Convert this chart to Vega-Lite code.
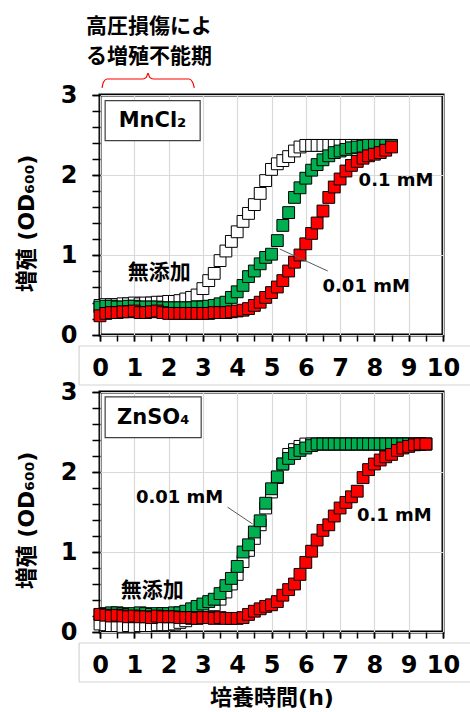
{
  "$schema": "https://vega.github.io/schema/vega-lite/v6.json",
  "background": "white",
  "padding": {"left": 13, "top": 14, "right": 0, "bottom": 0},
  "config": {
    "view": {"stroke": "#000000", "strokeWidth": 3},
    "axis": {
      "domain": false,
      "tickColor": "#000000",
      "tickWidth": 1.5,
      "labelColor": "#000000",
      "labelFont": "DejaVu Sans",
      "labelFontSize": 24,
      "labelFontWeight": "bold",
      "titleColor": "#000000",
      "titleFont": "DejaVu Sans, Noto Sans CJK JP",
      "titleFontSize": 22,
      "titleFontWeight": "bold",
      "gridColor": "#d9d9d9",
      "gridWidth": 1.2,
      "labelOverlap": false,
      "labelFlush": false,
      "labelBound": false
    },
    "axisX": {"tickSize": 6, "labelPadding": 27, "labelBaseline": "middle"},
    "axisY": {"tickSize": 8, "labelPadding": 15, "titleAngle": 270, "titleX": -74, "titleY": 128, "titleAlign": "center", "titleBaseline": "middle"}
  },
  "datasets": {
    "growth": [
      {"p":"Mn","s":"none","h":0,"v":0.37},{"p":"Mn","s":"none","h":0.17,"v":0.38},{"p":"Mn","s":"none","h":0.33,"v":0.38},{"p":"Mn","s":"none","h":0.5,"v":0.38},{"p":"Mn","s":"none","h":0.67,"v":0.39},{"p":"Mn","s":"none","h":0.83,"v":0.39},{"p":"Mn","s":"none","h":1,"v":0.4},{"p":"Mn","s":"none","h":1.17,"v":0.39},{"p":"Mn","s":"none","h":1.33,"v":0.4},{"p":"Mn","s":"none","h":1.5,"v":0.4},{"p":"Mn","s":"none","h":1.67,"v":0.41},{"p":"Mn","s":"none","h":1.83,"v":0.41},{"p":"Mn","s":"none","h":2,"v":0.42},{"p":"Mn","s":"none","h":2.17,"v":0.42},{"p":"Mn","s":"none","h":2.33,"v":0.43},{"p":"Mn","s":"none","h":2.5,"v":0.45},{"p":"Mn","s":"none","h":2.67,"v":0.47},{"p":"Mn","s":"none","h":2.83,"v":0.5},{"p":"Mn","s":"none","h":3,"v":0.58},{"p":"Mn","s":"none","h":3.17,"v":0.68},{"p":"Mn","s":"none","h":3.33,"v":0.77},{"p":"Mn","s":"none","h":3.5,"v":0.93},{"p":"Mn","s":"none","h":3.67,"v":1.05},{"p":"Mn","s":"none","h":3.83,"v":1.17},{"p":"Mn","s":"none","h":4,"v":1.29},{"p":"Mn","s":"none","h":4.17,"v":1.42},{"p":"Mn","s":"none","h":4.33,"v":1.52},{"p":"Mn","s":"none","h":4.5,"v":1.63},{"p":"Mn","s":"none","h":4.67,"v":1.77},{"p":"Mn","s":"none","h":4.83,"v":1.93},{"p":"Mn","s":"none","h":5,"v":2.07},{"p":"Mn","s":"none","h":5.17,"v":2.14},{"p":"Mn","s":"none","h":5.33,"v":2.18},{"p":"Mn","s":"none","h":5.5,"v":2.23},{"p":"Mn","s":"none","h":5.67,"v":2.3},{"p":"Mn","s":"none","h":5.83,"v":2.35},{"p":"Mn","s":"none","h":6,"v":2.37},{"p":"Mn","s":"none","h":6.17,"v":2.37},{"p":"Mn","s":"none","h":6.33,"v":2.37},{"p":"Mn","s":"none","h":6.5,"v":2.37},{"p":"Mn","s":"none","h":6.67,"v":2.37},{"p":"Mn","s":"none","h":6.83,"v":2.37},{"p":"Mn","s":"none","h":7,"v":2.37},{"p":"Mn","s":"none","h":7.17,"v":2.37},{"p":"Mn","s":"none","h":7.33,"v":2.37},{"p":"Mn","s":"none","h":7.5,"v":2.37},{"p":"Mn","s":"none","h":7.67,"v":2.37},{"p":"Mn","s":"none","h":7.83,"v":2.37},{"p":"Mn","s":"none","h":8,"v":2.37},{"p":"Mn","s":"none","h":8.17,"v":2.37},{"p":"Mn","s":"none","h":8.33,"v":2.37},{"p":"Mn","s":"none","h":8.5,"v":2.37},
      {"p":"Mn","s":"0.01","h":0,"v":0.35},{"p":"Mn","s":"0.01","h":0.17,"v":0.36},{"p":"Mn","s":"0.01","h":0.33,"v":0.36},{"p":"Mn","s":"0.01","h":0.5,"v":0.35},{"p":"Mn","s":"0.01","h":0.67,"v":0.35},{"p":"Mn","s":"0.01","h":0.83,"v":0.36},{"p":"Mn","s":"0.01","h":1,"v":0.36},{"p":"Mn","s":"0.01","h":1.17,"v":0.35},{"p":"Mn","s":"0.01","h":1.33,"v":0.35},{"p":"Mn","s":"0.01","h":1.5,"v":0.35},{"p":"Mn","s":"0.01","h":1.67,"v":0.35},{"p":"Mn","s":"0.01","h":1.83,"v":0.34},{"p":"Mn","s":"0.01","h":2,"v":0.34},{"p":"Mn","s":"0.01","h":2.17,"v":0.34},{"p":"Mn","s":"0.01","h":2.33,"v":0.34},{"p":"Mn","s":"0.01","h":2.5,"v":0.34},{"p":"Mn","s":"0.01","h":2.67,"v":0.34},{"p":"Mn","s":"0.01","h":2.83,"v":0.35},{"p":"Mn","s":"0.01","h":3,"v":0.35},{"p":"Mn","s":"0.01","h":3.17,"v":0.36},{"p":"Mn","s":"0.01","h":3.33,"v":0.37},{"p":"Mn","s":"0.01","h":3.5,"v":0.39},{"p":"Mn","s":"0.01","h":3.67,"v":0.41},{"p":"Mn","s":"0.01","h":3.83,"v":0.47},{"p":"Mn","s":"0.01","h":4,"v":0.54},{"p":"Mn","s":"0.01","h":4.17,"v":0.62},{"p":"Mn","s":"0.01","h":4.33,"v":0.73},{"p":"Mn","s":"0.01","h":4.5,"v":0.8},{"p":"Mn","s":"0.01","h":4.67,"v":0.89},{"p":"Mn","s":"0.01","h":4.83,"v":0.97},{"p":"Mn","s":"0.01","h":5,"v":1.01},{"p":"Mn","s":"0.01","h":5.17,"v":1.18},{"p":"Mn","s":"0.01","h":5.33,"v":1.37},{"p":"Mn","s":"0.01","h":5.5,"v":1.53},{"p":"Mn","s":"0.01","h":5.67,"v":1.72},{"p":"Mn","s":"0.01","h":5.83,"v":1.84},{"p":"Mn","s":"0.01","h":6,"v":1.96},{"p":"Mn","s":"0.01","h":6.17,"v":2.06},{"p":"Mn","s":"0.01","h":6.33,"v":2.13},{"p":"Mn","s":"0.01","h":6.5,"v":2.19},{"p":"Mn","s":"0.01","h":6.67,"v":2.24},{"p":"Mn","s":"0.01","h":6.83,"v":2.28},{"p":"Mn","s":"0.01","h":7,"v":2.3},{"p":"Mn","s":"0.01","h":7.17,"v":2.32},{"p":"Mn","s":"0.01","h":7.33,"v":2.34},{"p":"Mn","s":"0.01","h":7.5,"v":2.35},{"p":"Mn","s":"0.01","h":7.67,"v":2.36},{"p":"Mn","s":"0.01","h":7.83,"v":2.37},{"p":"Mn","s":"0.01","h":8,"v":2.37},{"p":"Mn","s":"0.01","h":8.17,"v":2.37},{"p":"Mn","s":"0.01","h":8.33,"v":2.37},{"p":"Mn","s":"0.01","h":8.5,"v":2.37},
      {"p":"Mn","s":"0.1","h":0,"v":0.24},{"p":"Mn","s":"0.1","h":0.17,"v":0.27},{"p":"Mn","s":"0.1","h":0.33,"v":0.28},{"p":"Mn","s":"0.1","h":0.5,"v":0.28},{"p":"Mn","s":"0.1","h":0.67,"v":0.29},{"p":"Mn","s":"0.1","h":0.83,"v":0.29},{"p":"Mn","s":"0.1","h":1,"v":0.3},{"p":"Mn","s":"0.1","h":1.17,"v":0.28},{"p":"Mn","s":"0.1","h":1.33,"v":0.28},{"p":"Mn","s":"0.1","h":1.5,"v":0.29},{"p":"Mn","s":"0.1","h":1.67,"v":0.3},{"p":"Mn","s":"0.1","h":1.83,"v":0.28},{"p":"Mn","s":"0.1","h":2,"v":0.27},{"p":"Mn","s":"0.1","h":2.17,"v":0.27},{"p":"Mn","s":"0.1","h":2.33,"v":0.27},{"p":"Mn","s":"0.1","h":2.5,"v":0.27},{"p":"Mn","s":"0.1","h":2.67,"v":0.27},{"p":"Mn","s":"0.1","h":2.83,"v":0.27},{"p":"Mn","s":"0.1","h":3,"v":0.27},{"p":"Mn","s":"0.1","h":3.17,"v":0.27},{"p":"Mn","s":"0.1","h":3.33,"v":0.28},{"p":"Mn","s":"0.1","h":3.5,"v":0.28},{"p":"Mn","s":"0.1","h":3.67,"v":0.28},{"p":"Mn","s":"0.1","h":3.83,"v":0.29},{"p":"Mn","s":"0.1","h":4,"v":0.3},{"p":"Mn","s":"0.1","h":4.17,"v":0.31},{"p":"Mn","s":"0.1","h":4.33,"v":0.33},{"p":"Mn","s":"0.1","h":4.5,"v":0.37},{"p":"Mn","s":"0.1","h":4.67,"v":0.41},{"p":"Mn","s":"0.1","h":4.83,"v":0.47},{"p":"Mn","s":"0.1","h":5,"v":0.53},{"p":"Mn","s":"0.1","h":5.17,"v":0.6},{"p":"Mn","s":"0.1","h":5.33,"v":0.68},{"p":"Mn","s":"0.1","h":5.5,"v":0.8},{"p":"Mn","s":"0.1","h":5.67,"v":0.91},{"p":"Mn","s":"0.1","h":5.83,"v":1.0},{"p":"Mn","s":"0.1","h":6,"v":1.14},{"p":"Mn","s":"0.1","h":6.17,"v":1.27},{"p":"Mn","s":"0.1","h":6.33,"v":1.4},{"p":"Mn","s":"0.1","h":6.5,"v":1.55},{"p":"Mn","s":"0.1","h":6.67,"v":1.72},{"p":"Mn","s":"0.1","h":6.83,"v":1.85},{"p":"Mn","s":"0.1","h":7,"v":1.95},{"p":"Mn","s":"0.1","h":7.17,"v":2.05},{"p":"Mn","s":"0.1","h":7.33,"v":2.12},{"p":"Mn","s":"0.1","h":7.5,"v":2.17},{"p":"Mn","s":"0.1","h":7.67,"v":2.21},{"p":"Mn","s":"0.1","h":7.83,"v":2.24},{"p":"Mn","s":"0.1","h":8,"v":2.26},{"p":"Mn","s":"0.1","h":8.17,"v":2.28},{"p":"Mn","s":"0.1","h":8.33,"v":2.31},{"p":"Mn","s":"0.1","h":8.5,"v":2.35},
      {"p":"Zn","s":"none","h":0,"v":0.1},{"p":"Zn","s":"none","h":0.17,"v":0.09},{"p":"Zn","s":"none","h":0.33,"v":0.08},{"p":"Zn","s":"none","h":0.5,"v":0.08},{"p":"Zn","s":"none","h":0.67,"v":0.07},{"p":"Zn","s":"none","h":0.83,"v":0.08},{"p":"Zn","s":"none","h":1,"v":0.07},{"p":"Zn","s":"none","h":1.17,"v":0.08},{"p":"Zn","s":"none","h":1.33,"v":0.08},{"p":"Zn","s":"none","h":1.5,"v":0.08},{"p":"Zn","s":"none","h":1.67,"v":0.09},{"p":"Zn","s":"none","h":1.83,"v":0.09},{"p":"Zn","s":"none","h":2,"v":0.09},{"p":"Zn","s":"none","h":2.17,"v":0.1},{"p":"Zn","s":"none","h":2.33,"v":0.12},{"p":"Zn","s":"none","h":2.5,"v":0.14},{"p":"Zn","s":"none","h":2.67,"v":0.17},{"p":"Zn","s":"none","h":2.83,"v":0.2},{"p":"Zn","s":"none","h":3,"v":0.22},{"p":"Zn","s":"none","h":3.17,"v":0.28},{"p":"Zn","s":"none","h":3.33,"v":0.34},{"p":"Zn","s":"none","h":3.5,"v":0.41},{"p":"Zn","s":"none","h":3.67,"v":0.5},{"p":"Zn","s":"none","h":3.83,"v":0.6},{"p":"Zn","s":"none","h":4,"v":0.72},{"p":"Zn","s":"none","h":4.17,"v":0.88},{"p":"Zn","s":"none","h":4.33,"v":1.02},{"p":"Zn","s":"none","h":4.5,"v":1.17},{"p":"Zn","s":"none","h":4.67,"v":1.34},{"p":"Zn","s":"none","h":4.83,"v":1.55},{"p":"Zn","s":"none","h":5,"v":1.75},{"p":"Zn","s":"none","h":5.17,"v":1.93},{"p":"Zn","s":"none","h":5.33,"v":2.1},{"p":"Zn","s":"none","h":5.5,"v":2.22},{"p":"Zn","s":"none","h":5.67,"v":2.28},{"p":"Zn","s":"none","h":5.83,"v":2.32},{"p":"Zn","s":"none","h":6,"v":2.35},{"p":"Zn","s":"none","h":6.17,"v":2.35},{"p":"Zn","s":"none","h":6.33,"v":2.35},{"p":"Zn","s":"none","h":6.5,"v":2.35},{"p":"Zn","s":"none","h":6.67,"v":2.35},{"p":"Zn","s":"none","h":6.83,"v":2.35},{"p":"Zn","s":"none","h":7,"v":2.35},{"p":"Zn","s":"none","h":7.17,"v":2.35},{"p":"Zn","s":"none","h":7.33,"v":2.35},{"p":"Zn","s":"none","h":7.5,"v":2.35},{"p":"Zn","s":"none","h":7.67,"v":2.35},{"p":"Zn","s":"none","h":7.83,"v":2.35},{"p":"Zn","s":"none","h":8,"v":2.35},{"p":"Zn","s":"none","h":8.17,"v":2.35},{"p":"Zn","s":"none","h":8.33,"v":2.35},{"p":"Zn","s":"none","h":8.5,"v":2.35},{"p":"Zn","s":"none","h":8.67,"v":2.35},{"p":"Zn","s":"none","h":8.83,"v":2.35},{"p":"Zn","s":"none","h":9,"v":2.35},{"p":"Zn","s":"none","h":9.17,"v":2.35},{"p":"Zn","s":"none","h":9.33,"v":2.35},{"p":"Zn","s":"none","h":9.5,"v":2.35},
      {"p":"Zn","s":"0.01","h":0,"v":0.22},{"p":"Zn","s":"0.01","h":0.17,"v":0.23},{"p":"Zn","s":"0.01","h":0.33,"v":0.24},{"p":"Zn","s":"0.01","h":0.5,"v":0.24},{"p":"Zn","s":"0.01","h":0.67,"v":0.23},{"p":"Zn","s":"0.01","h":0.83,"v":0.22},{"p":"Zn","s":"0.01","h":1,"v":0.23},{"p":"Zn","s":"0.01","h":1.17,"v":0.24},{"p":"Zn","s":"0.01","h":1.33,"v":0.23},{"p":"Zn","s":"0.01","h":1.5,"v":0.22},{"p":"Zn","s":"0.01","h":1.67,"v":0.23},{"p":"Zn","s":"0.01","h":1.83,"v":0.23},{"p":"Zn","s":"0.01","h":2,"v":0.23},{"p":"Zn","s":"0.01","h":2.17,"v":0.24},{"p":"Zn","s":"0.01","h":2.33,"v":0.24},{"p":"Zn","s":"0.01","h":2.5,"v":0.26},{"p":"Zn","s":"0.01","h":2.67,"v":0.29},{"p":"Zn","s":"0.01","h":2.83,"v":0.32},{"p":"Zn","s":"0.01","h":3,"v":0.35},{"p":"Zn","s":"0.01","h":3.17,"v":0.38},{"p":"Zn","s":"0.01","h":3.33,"v":0.41},{"p":"Zn","s":"0.01","h":3.5,"v":0.48},{"p":"Zn","s":"0.01","h":3.67,"v":0.58},{"p":"Zn","s":"0.01","h":3.83,"v":0.67},{"p":"Zn","s":"0.01","h":4,"v":0.82},{"p":"Zn","s":"0.01","h":4.17,"v":1.0},{"p":"Zn","s":"0.01","h":4.33,"v":1.09},{"p":"Zn","s":"0.01","h":4.5,"v":1.25},{"p":"Zn","s":"0.01","h":4.67,"v":1.39},{"p":"Zn","s":"0.01","h":4.83,"v":1.61},{"p":"Zn","s":"0.01","h":5,"v":1.79},{"p":"Zn","s":"0.01","h":5.17,"v":1.94},{"p":"Zn","s":"0.01","h":5.33,"v":2.1},{"p":"Zn","s":"0.01","h":5.5,"v":2.17},{"p":"Zn","s":"0.01","h":5.67,"v":2.23},{"p":"Zn","s":"0.01","h":5.83,"v":2.27},{"p":"Zn","s":"0.01","h":6,"v":2.3},{"p":"Zn","s":"0.01","h":6.17,"v":2.33},{"p":"Zn","s":"0.01","h":6.33,"v":2.35},{"p":"Zn","s":"0.01","h":6.5,"v":2.35},{"p":"Zn","s":"0.01","h":6.67,"v":2.35},{"p":"Zn","s":"0.01","h":6.83,"v":2.35},{"p":"Zn","s":"0.01","h":7,"v":2.35},{"p":"Zn","s":"0.01","h":7.17,"v":2.35},{"p":"Zn","s":"0.01","h":7.33,"v":2.35},{"p":"Zn","s":"0.01","h":7.5,"v":2.35},{"p":"Zn","s":"0.01","h":7.67,"v":2.35},{"p":"Zn","s":"0.01","h":7.83,"v":2.35},{"p":"Zn","s":"0.01","h":8,"v":2.35},{"p":"Zn","s":"0.01","h":8.17,"v":2.35},{"p":"Zn","s":"0.01","h":8.33,"v":2.35},{"p":"Zn","s":"0.01","h":8.5,"v":2.35},{"p":"Zn","s":"0.01","h":8.67,"v":2.35},{"p":"Zn","s":"0.01","h":8.83,"v":2.35},{"p":"Zn","s":"0.01","h":9,"v":2.35},{"p":"Zn","s":"0.01","h":9.17,"v":2.35},{"p":"Zn","s":"0.01","h":9.33,"v":2.35},{"p":"Zn","s":"0.01","h":9.5,"v":2.35},
      {"p":"Zn","s":"0.1","h":0,"v":0.22},{"p":"Zn","s":"0.1","h":0.17,"v":0.21},{"p":"Zn","s":"0.1","h":0.33,"v":0.2},{"p":"Zn","s":"0.1","h":0.5,"v":0.21},{"p":"Zn","s":"0.1","h":0.67,"v":0.2},{"p":"Zn","s":"0.1","h":0.83,"v":0.19},{"p":"Zn","s":"0.1","h":1,"v":0.2},{"p":"Zn","s":"0.1","h":1.17,"v":0.19},{"p":"Zn","s":"0.1","h":1.33,"v":0.19},{"p":"Zn","s":"0.1","h":1.5,"v":0.18},{"p":"Zn","s":"0.1","h":1.67,"v":0.2},{"p":"Zn","s":"0.1","h":1.83,"v":0.19},{"p":"Zn","s":"0.1","h":2,"v":0.19},{"p":"Zn","s":"0.1","h":2.17,"v":0.19},{"p":"Zn","s":"0.1","h":2.33,"v":0.18},{"p":"Zn","s":"0.1","h":2.5,"v":0.18},{"p":"Zn","s":"0.1","h":2.67,"v":0.18},{"p":"Zn","s":"0.1","h":2.83,"v":0.17},{"p":"Zn","s":"0.1","h":3,"v":0.18},{"p":"Zn","s":"0.1","h":3.17,"v":0.18},{"p":"Zn","s":"0.1","h":3.33,"v":0.17},{"p":"Zn","s":"0.1","h":3.5,"v":0.18},{"p":"Zn","s":"0.1","h":3.67,"v":0.17},{"p":"Zn","s":"0.1","h":3.83,"v":0.17},{"p":"Zn","s":"0.1","h":4,"v":0.17},{"p":"Zn","s":"0.1","h":4.17,"v":0.18},{"p":"Zn","s":"0.1","h":4.33,"v":0.22},{"p":"Zn","s":"0.1","h":4.5,"v":0.26},{"p":"Zn","s":"0.1","h":4.67,"v":0.29},{"p":"Zn","s":"0.1","h":4.83,"v":0.32},{"p":"Zn","s":"0.1","h":5,"v":0.34},{"p":"Zn","s":"0.1","h":5.17,"v":0.38},{"p":"Zn","s":"0.1","h":5.33,"v":0.46},{"p":"Zn","s":"0.1","h":5.5,"v":0.53},{"p":"Zn","s":"0.1","h":5.67,"v":0.6},{"p":"Zn","s":"0.1","h":5.83,"v":0.72},{"p":"Zn","s":"0.1","h":6,"v":0.87},{"p":"Zn","s":"0.1","h":6.17,"v":1.01},{"p":"Zn","s":"0.1","h":6.33,"v":1.15},{"p":"Zn","s":"0.1","h":6.5,"v":1.27},{"p":"Zn","s":"0.1","h":6.67,"v":1.34},{"p":"Zn","s":"0.1","h":6.83,"v":1.45},{"p":"Zn","s":"0.1","h":7,"v":1.55},{"p":"Zn","s":"0.1","h":7.17,"v":1.62},{"p":"Zn","s":"0.1","h":7.33,"v":1.69},{"p":"Zn","s":"0.1","h":7.5,"v":1.76},{"p":"Zn","s":"0.1","h":7.67,"v":1.93},{"p":"Zn","s":"0.1","h":7.83,"v":2.03},{"p":"Zn","s":"0.1","h":8,"v":2.1},{"p":"Zn","s":"0.1","h":8.17,"v":2.15},{"p":"Zn","s":"0.1","h":8.33,"v":2.19},{"p":"Zn","s":"0.1","h":8.5,"v":2.22},{"p":"Zn","s":"0.1","h":8.67,"v":2.27},{"p":"Zn","s":"0.1","h":8.83,"v":2.3},{"p":"Zn","s":"0.1","h":9,"v":2.32},{"p":"Zn","s":"0.1","h":9.17,"v":2.34},{"p":"Zn","s":"0.1","h":9.33,"v":2.35},{"p":"Zn","s":"0.1","h":9.5,"v":2.35}
    ]
  },
  "spacing": 57,
  "bounds": "flush",
  "vconcat": [
    {
      "width": 343,
      "height": 240,
      "resolve": {"axis": {"x": "independent", "y": "independent"}},
      "layer": [
        {"data": {"values": [{}]}, "mark": {"type": "rule", "color": "#d4d4d4", "strokeWidth": 1.2, "clip": false}, "encoding": {"x": {"datum": -0.61, "axis": null}, "x2": {"datum": 10.8}, "y": {"datum": -0.1375, "axis": null}}},
        {"data": {"values": [{}]}, "mark": {"type": "rule", "color": "#d4d4d4", "strokeWidth": 1.2, "clip": false}, "encoding": {"x": {"datum": -0.61, "axis": null}, "x2": {"datum": 10.8}, "y": {"datum": -0.625, "axis": null}}},
        {"data": {"values": [{}]}, "mark": {"type": "rule", "color": "#d4d4d4", "strokeWidth": 1.2, "clip": false}, "encoding": {"x": {"datum": -0.61, "axis": null}, "y": {"datum": -0.1375, "axis": null}, "y2": {"datum": -0.625}}},
        {"data": {"values": [{}]}, "mark": {"type": "point", "opacity": 0},
          "encoding": {
            "x": {"datum": 0, "axis": {"orient": "bottom", "offset": 0, "title": null, "labels": false, "grid": false, "ticks": true, "tickSize": 6, "values": [0,0.5,1,1.5,2,2.5,3,3.5,4,4.5,5,5.5,6,6.5,7,7.5,8,8.5,9,9.5,10]}},
            "y": {"datum": 0, "axis": {"orient": "left", "offset": 0, "title": null, "labels": false, "grid": false, "ticks": true, "tickSize": 8, "values": [0,0.2,0.4,0.6,0.8,1,1.2,1.4,1.6,1.8,2,2.2,2.4,2.6,2.8,3]}}
          }
        },
        {
          "data": {"name": "growth"},
          "transform": [{"filter": "datum.p == 'Mn'"}],
          "mark": {"type": "point", "shape": "square", "filled": true, "size": 140, "stroke": "#000000", "strokeWidth": 1, "opacity": 1},
          "encoding": {
            "x": {"field": "h", "type": "quantitative", "scale": {"domain": [0, 10], "nice": false, "zero": false},
              "axis": {"orient": "bottom", "offset": 0, "title": null, "labelOverlap": false, "labelFlush": false, "values": [0,1,2,3,4,5,6,7,8,9,10], "format": "d", "grid": true}},
            "y": {"field": "v", "type": "quantitative", "scale": {"domain": [0, 3], "nice": false},
              "axis": {"orient": "left", "offset": 0, "title": "増殖 (OD₆₀₀)", "labelOverlap": false, "labelFlush": false, "values": [0,1,2,3], "format": "d", "grid": true}},
            "color": {"field": "s", "type": "nominal", "scale": {"domain": ["none", "0.01", "0.1"], "range": ["#ffffff", "#00b050", "#ff0000"]}, "legend": null}
          }
        },
        {"data": {"values": [{}]}, "mark": {"type": "rule", "color": "#595959", "strokeWidth": 1}, "encoding": {"x": {"datum": 5.24, "axis": null}, "y": {"datum": 1.075, "axis": null}, "x2": {"datum": 6.64}, "y2": {"datum": 0.8}}},
        {"data": {"values": [{}]}, "mark": {"type": "text", "text": "0.1 mM", "font": "DejaVu Sans", "fontSize": 18, "fontWeight": "bold", "color": "#000000", "align": "center", "baseline": "middle", "clip": false}, "encoding": {"x": {"datum": 8.63, "axis": null}, "y": {"datum": 1.93, "axis": null}}},
        {"data": {"values": [{}]}, "mark": {"type": "text", "text": "0.01 mM", "font": "DejaVu Sans", "fontSize": 18, "fontWeight": "bold", "color": "#000000", "align": "center", "baseline": "middle", "clip": false}, "encoding": {"x": {"datum": 7.76, "axis": null}, "y": {"datum": 0.6, "axis": null}}},
        {"data": {"values": [{}]}, "mark": {"type": "text", "text": "無添加", "font": "Noto Sans CJK JP", "fontSize": 21, "fontWeight": "bold", "color": "#000000", "align": "center", "baseline": "middle"}, "encoding": {"x": {"datum": 1.73, "axis": null}, "y": {"datum": 0.78, "axis": null}}},
        {"data": {"values": [{}]}, "mark": {"type": "rect", "fill": "#ffffff", "stroke": "#404040", "strokeWidth": 1.2}, "encoding": {"x": {"datum": 0.15, "axis": null}, "x2": {"datum": 2.92}, "y": {"datum": 2.93, "axis": null}, "y2": {"datum": 2.43}}},
        {"data": {"values": [{}]}, "mark": {"type": "text", "text": "MnCl₂", "font": "DejaVu Sans", "fontSize": 21, "fontWeight": "bold", "color": "#000000", "align": "center", "baseline": "middle"}, "encoding": {"x": {"datum": 1.53, "axis": null}, "y": {"datum": 2.68, "axis": null}}},
        {"data": {"values": [{}]}, "mark": {"type": "text", "text": ["高圧損傷によ", "る増殖不能期"], "font": "Noto Sans CJK JP", "fontSize": 21, "fontWeight": "bold", "lineHeight": 30, "color": "#000000", "align": "center", "baseline": "middle", "clip": false}, "encoding": {"x": {"datum": 1.43, "axis": null}, "y": {"datum": 3.85, "axis": null}}},
        {
          "data": {"values": [{"h": 0.06, "v": 3.09}, {"h": 0.1, "v": 3.16}, {"h": 0.2, "v": 3.2}, {"h": 1.25, "v": 3.2}, {"h": 1.35, "v": 3.22}, {"h": 1.4, "v": 3.27}, {"h": 1.45, "v": 3.22}, {"h": 1.55, "v": 3.2}, {"h": 2.6, "v": 3.2}, {"h": 2.7, "v": 3.16}, {"h": 2.75, "v": 3.09}]},
          "mark": {"type": "line", "color": "#ff0000", "strokeWidth": 1.2, "interpolate": "monotone", "clip": false},
          "encoding": {"x": {"field": "h", "type": "quantitative", "axis": null}, "y": {"field": "v", "type": "quantitative", "axis": null}}
        }
      ]
    },
    {
      "width": 343,
      "height": 240,
      "resolve": {"axis": {"x": "independent", "y": "independent"}},
      "layer": [
        {"data": {"values": [{}]}, "mark": {"type": "rule", "color": "#d4d4d4", "strokeWidth": 1.2, "clip": false}, "encoding": {"x": {"datum": -0.61, "axis": null}, "x2": {"datum": 10.8}, "y": {"datum": -0.1375, "axis": null}}},
        {"data": {"values": [{}]}, "mark": {"type": "rule", "color": "#d4d4d4", "strokeWidth": 1.2, "clip": false}, "encoding": {"x": {"datum": -0.61, "axis": null}, "x2": {"datum": 10.8}, "y": {"datum": -0.625, "axis": null}}},
        {"data": {"values": [{}]}, "mark": {"type": "rule", "color": "#d4d4d4", "strokeWidth": 1.2, "clip": false}, "encoding": {"x": {"datum": -0.61, "axis": null}, "y": {"datum": -0.1375, "axis": null}, "y2": {"datum": -0.625}}},
        {"data": {"values": [{}]}, "mark": {"type": "point", "opacity": 0},
          "encoding": {
            "x": {"datum": 0, "axis": {"orient": "bottom", "offset": 0, "title": null, "labels": false, "grid": false, "ticks": true, "tickSize": 6, "values": [0,0.5,1,1.5,2,2.5,3,3.5,4,4.5,5,5.5,6,6.5,7,7.5,8,8.5,9,9.5,10]}},
            "y": {"datum": 0, "axis": {"orient": "left", "offset": 0, "title": null, "labels": false, "grid": false, "ticks": true, "tickSize": 8, "values": [0,0.2,0.4,0.6,0.8,1,1.2,1.4,1.6,1.8,2,2.2,2.4,2.6,2.8,3]}}
          }
        },
        {
          "data": {"name": "growth"},
          "transform": [{"filter": "datum.p == 'Zn'"}],
          "mark": {"type": "point", "shape": "square", "filled": true, "size": 140, "stroke": "#000000", "strokeWidth": 1, "opacity": 1},
          "encoding": {
            "x": {"field": "h", "type": "quantitative", "scale": {"domain": [0, 10], "nice": false, "zero": false},
              "axis": {"orient": "bottom", "offset": 0, "title": "培養時間(h)", "titleX": 171.5, "titleY": 65, "titleBaseline": "middle", "titleAlign": "center", "labelOverlap": false, "labelFlush": false, "values": [0,1,2,3,4,5,6,7,8,9,10], "format": "d", "grid": true}},
            "y": {"field": "v", "type": "quantitative", "scale": {"domain": [0, 3], "nice": false},
              "axis": {"orient": "left", "offset": 0, "title": "増殖 (OD₆₀₀)", "labelOverlap": false, "labelFlush": false, "values": [0,1,2,3], "format": "d", "grid": true}},
            "color": {"field": "s", "type": "nominal", "scale": {"domain": ["none", "0.01", "0.1"], "range": ["#ffffff", "#00b050", "#ff0000"]}, "legend": null}
          }
        },
        {"data": {"values": [{}]}, "mark": {"type": "rule", "color": "#595959", "strokeWidth": 1}, "encoding": {"x": {"datum": 3.72, "axis": null}, "y": {"datum": 1.56, "axis": null}, "x2": {"datum": 4.45}, "y2": {"datum": 1.35}}},
        {"data": {"values": [{}]}, "mark": {"type": "text", "text": "0.01 mM", "font": "DejaVu Sans", "fontSize": 18, "fontWeight": "bold", "color": "#000000", "align": "center", "baseline": "middle"}, "encoding": {"x": {"datum": 2.32, "axis": null}, "y": {"datum": 1.68, "axis": null}}},
        {"data": {"values": [{}]}, "mark": {"type": "text", "text": "0.1 mM", "font": "DejaVu Sans", "fontSize": 18, "fontWeight": "bold", "color": "#000000", "align": "center", "baseline": "middle", "clip": false}, "encoding": {"x": {"datum": 8.58, "axis": null}, "y": {"datum": 1.45, "axis": null}}},
        {"data": {"values": [{}]}, "mark": {"type": "text", "text": "無添加", "font": "Noto Sans CJK JP", "fontSize": 21, "fontWeight": "bold", "color": "#000000", "align": "center", "baseline": "middle"}, "encoding": {"x": {"datum": 1.52, "axis": null}, "y": {"datum": 0.51, "axis": null}}},
        {"data": {"values": [{}]}, "mark": {"type": "rect", "fill": "#ffffff", "stroke": "#404040", "strokeWidth": 1.2}, "encoding": {"x": {"datum": 0.15, "axis": null}, "x2": {"datum": 2.95}, "y": {"datum": 2.94, "axis": null}, "y2": {"datum": 2.43}}},
        {"data": {"values": [{}]}, "mark": {"type": "text", "text": "ZnSO₄", "font": "DejaVu Sans", "fontSize": 21, "fontWeight": "bold", "color": "#000000", "align": "center", "baseline": "middle"}, "encoding": {"x": {"datum": 1.55, "axis": null}, "y": {"datum": 2.68, "axis": null}}}
      ]
    }
  ]
}
